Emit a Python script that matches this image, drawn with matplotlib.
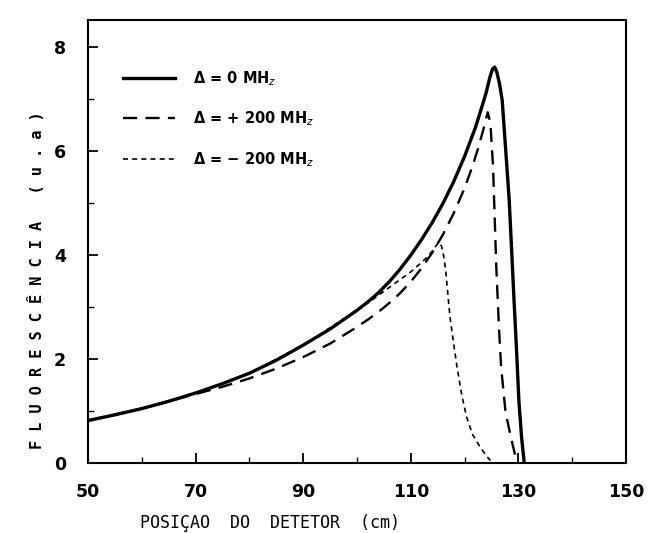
import matplotlib
matplotlib.use("Agg")
import matplotlib.pyplot as plt
from matplotlib.ticker import MultipleLocator

# Data
x_zero = [50, 55, 60, 65, 70, 75, 80, 85, 90, 95, 100, 102, 104, 106, 108, 110, 112, 114, 116,
          118, 120, 122, 123, 124, 124.7, 125.2, 125.6, 126, 126.5, 127, 127.6, 128.3,
          128.8, 129.2, 129.7, 130.1, 130.6, 131.1]
y_zero = [0.82, 0.93, 1.05, 1.19, 1.35, 1.53, 1.73, 1.98, 2.27, 2.58, 2.94, 3.10, 3.28, 3.49, 3.73,
          4.00, 4.30, 4.63, 5.00, 5.42, 5.90, 6.45, 6.78, 7.12, 7.42, 7.58, 7.62, 7.52, 7.3, 6.98, 6.1, 5.06,
          4.0, 3.13, 2.1, 1.2, 0.5, 0.0]

x_plus = [50, 60, 70, 75, 80, 85, 90, 95, 100, 102, 104, 106, 108, 110, 112, 114, 116, 118, 120,
          121.5, 122.5, 123.5, 124.3, 124.8, 125.3, 125.9, 126.4, 126.8, 127.6, 128.5, 129.3, 130]
y_plus = [0.82, 1.05, 1.33, 1.47, 1.63, 1.82, 2.04, 2.3, 2.62, 2.76, 2.91, 3.08, 3.27, 3.49, 3.75, 4.05,
          4.40, 4.81, 5.29, 5.72, 6.05, 6.42, 6.75, 6.55, 5.7, 3.77, 2.6, 1.85, 1.0, 0.55, 0.2, 0.0]

x_minus = [50, 60, 70, 80, 90, 100, 102, 104, 106, 108, 110, 112, 113, 114, 114.7, 115.2, 115.7,
           116.1, 116.5, 117.3, 118.0, 118.6, 119.5, 120.4, 121.5, 122.9, 124, 124.8]
y_minus = [0.82, 1.05, 1.35, 1.73, 2.27, 2.94, 3.08, 3.23, 3.38, 3.53, 3.68, 3.86, 3.96, 4.08, 4.18, 4.25,
           4.18, 4.0, 3.7, 2.8, 2.28, 1.85, 1.3, 0.88, 0.55, 0.31, 0.15, 0.05]

labels = ["Δ = 0 MH$_z$", "Δ = + 200 MH$_z$", "Δ = − 200 MH$_z$"]
x_ticks = [50, 70, 90, 110, 130, 150]
y_ticks = [0, 2, 4, 6, 8]

fig = plt.figure(figsize=(6.52, 5.33), dpi=100)
ax = fig.add_axes([0.135, 0.131, 0.825, 0.831])

ax.plot(x_zero, y_zero, color="black", lw=2.4, solid_joinstyle="round", label=labels[0])
ax.plot(x_plus, y_plus, color="black", lw=1.7, dashes=(6, 3.5), label=labels[1])
ax.plot(x_minus, y_minus, color="black", lw=1.2, dashes=(3, 2.5), label=labels[2])

ax.set_xlim(50, 150)
ax.set_ylim(0, 8.52)
ax.set_xticks(x_ticks)
ax.set_yticks(y_ticks)
ax.xaxis.set_minor_locator(MultipleLocator(10))
ax.yaxis.set_minor_locator(MultipleLocator(1))
ax.tick_params(which="major", direction="in", length=7, width=1.3, labelsize=12.5)
ax.tick_params(axis="x", which="major", pad=14)
ax.tick_params(axis="y", which="major", pad=16)
ax.tick_params(which="minor", direction="in", length=4, width=1.0)
for lab in ax.get_xticklabels() + ax.get_yticklabels():
    lab.set_fontweight("bold")
for s in ax.spines.values():
    s.set_linewidth(1.5)

ax.set_xlabel("POSIÇAO  DO  DETETOR  (cm)", family="DejaVu Sans Mono", fontsize=12)
ax.xaxis.set_label_coords(0.338, -0.115)
ax.set_ylabel("F L U O R E S C Ê N C I A   ( u . a )", family="DejaVu Sans Mono",
              fontsize=11, fontweight="bold")
ax.yaxis.set_label_coords(-0.08, 0.413)

leg = ax.legend(loc="upper left", frameon=False, handlelength=3.6, labelspacing=1.5,
                handletextpad=1.2, bbox_to_anchor=(0.04, 0.92), prop={"weight": "bold", "size": 10.5})

fig.savefig("out.png", dpi=100)
